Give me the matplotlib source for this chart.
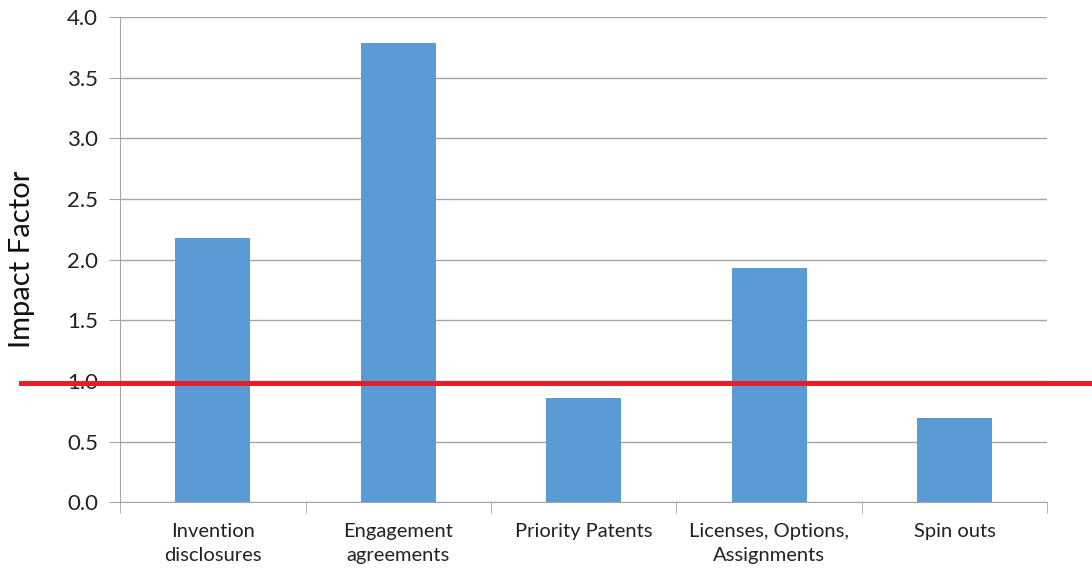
import matplotlib
matplotlib.use("Agg")
import matplotlib.pyplot as plt
import matplotlib.transforms as mtransforms

# values
categories = ["Invention\ndisclosures", "Engagement\nagreements", "Priority Patents",
              "Licenses, Options,\nAssignments", "Spin outs"]
impact = [2.18, 3.79, 0.86, 1.93, 0.69]
baseline = 0.98
yticks = [0.0, 0.5, 1.0, 1.5, 2.0, 2.5, 3.0, 3.5, 4.0]

plt.rcParams["font.family"] = ["Lato", "DejaVu Sans"]

fig = plt.figure(figsize=(10.92, 5.70), dpi=100)
ax = fig.add_axes([0.110, 0.119, 0.849, 0.851])

x = list(range(len(categories)))
ax.bar(x, impact, width=0.405, color="#5B9BD5", zorder=3)

ax.set_xlim(-0.5, len(categories) - 0.5)
ax.set_ylim(0, 4.0)
ax.set_yticks(yticks)
ax.set_yticklabels([f"{t:.1f}" for t in yticks], fontsize=16, color="#222222")
ax.yaxis.grid(True, color="#A6A6A6", linewidth=1, zorder=0)
ax.tick_params(axis="y", length=8, color="#A6A6A6", pad=8)

# category labels at centres, tick marks at boundaries
ax.set_xticks(x)
ax.set_xticklabels(categories, fontsize=14.5, color="#222222", linespacing=1.5)
ax.tick_params(axis="x", length=0, pad=15)
ax.set_xticks([i - 0.5 for i in range(len(categories) + 1)], minor=True)
ax.tick_params(axis="x", which="minor", length=8, color="#A6A6A6")

for side in ["top", "right"]:
    ax.spines[side].set_visible(False)
ax.spines["left"].set_color("#A6A6A6")
ax.spines["bottom"].set_color("#A6A6A6")

ax.set_ylabel("Impact Factor", fontsize=21, color="#111111")
ax.yaxis.set_label_coords(-0.092, 0.5)

# red reference line across the whole figure width
trans = mtransforms.blended_transform_factory(fig.transFigure, ax.transData)
ax.plot([0.019, 1.0], [baseline, baseline], color="#E3202A", linewidth=3.6,
        transform=trans, clip_on=False, zorder=5)

fig.savefig("out.png", dpi=100)
